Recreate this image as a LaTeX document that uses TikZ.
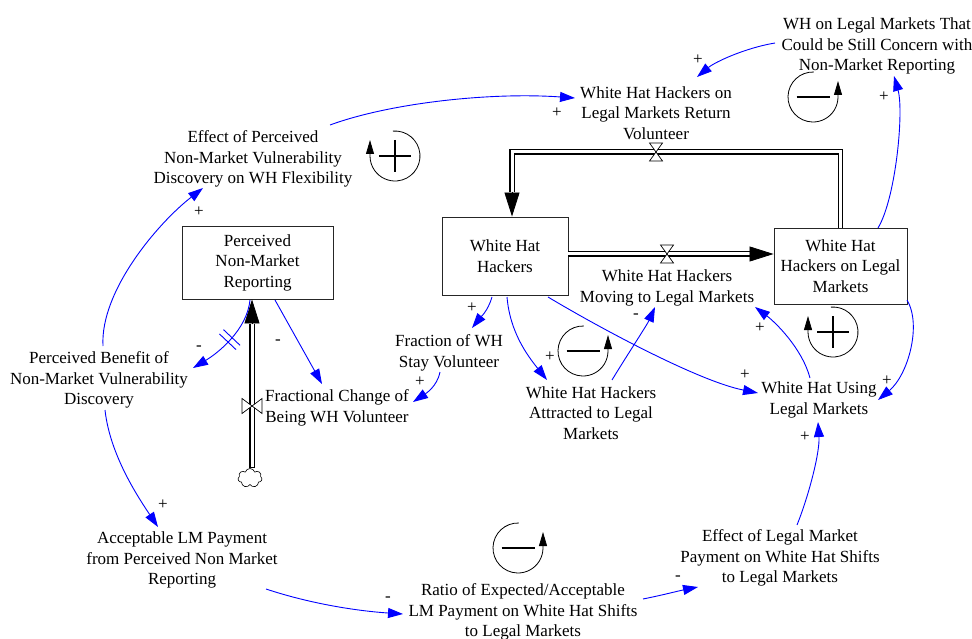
\documentclass[tikz,border=0pt]{standalone}
\usepackage{fontspec}
\newfontfamily\diagfont{Liberation Serif}
\usetikzlibrary{arrows.meta,shapes.symbols}
\begin{document}
\begin{tikzpicture}[x=1pt,y=-1pt,
  txt/.style={font=\diagfont\fontsize{17pt}{20.5pt}\selectfont},
  var/.style={txt, align=center, inner sep=1pt, yshift=-2pt},
  stock/.style={txt, align=center, draw=black!85, line width=0.9pt, inner sep=2pt},
  link/.style={draw=blue, line width=0.9pt, -{Triangle[length=15pt,width=10pt]}},
  sgn/.style={txt, inner sep=0pt},
  pipeouter/.style={draw=black, line width=5.2pt, line cap=butt, line join=miter},
  pipeinner/.style={draw=white, line width=3pt, line cap=butt, line join=miter},
  flowtip/.style={draw=black, line width=0.8pt, -{Triangle[length=24pt,width=15pt]}},
  valve/.style={draw=black, fill=white, line width=0.7pt, line join=miter},
  looparc/.style={draw=black, line width=0.8pt, -{Triangle[length=14pt,width=8pt]}},
  loopsym/.style={draw=black, line width=1.7pt},
  dmark/.style={inner sep=0pt, minimum width=5pt, minimum height=22pt},
]
\useasboundingbox (0,0) rectangle (972,639);

% ---------- variables ----------
\node[var] (wlc) at (877,44) {WH on Legal Markets That\\Could be Still Concern with\\Non-Market Reporting};
\node[var] (ret) at (656,111) {White Hat Hackers on\\Legal Markets Return\\Volunteer};
\node[var] (epn) at (253,157) {Effect of Perceived\\Non-Market Vulnerability\\Discovery on WH Flexibility};
\node[var] (mov) at (667,286) {White Hat Hackers\\Moving to Legal Markets};
\node[var] (fcb) at (337,406) {Fractional Change of\\Being WH Volunteer};
\node[var] (fws) at (449,351) {Fraction of WH\\Stay Volunteer};
\node[var] (att) at (591,411) {White Hat Hackers\\Attracted to Legal\\Markets};
\node[var] (usg) at (819,398) {White Hat Using\\Legal Markets};
\node[var] (pbn) at (99,378) {Perceived Benefit of\\Non-Market Vulnerability\\Discovery};
\node[var] (acc) at (182,558) {Acceptable LM Payment\\from Perceived Non Market\\Reporting};
\node[var] (rat) at (523,610) {Ratio of Expected/Acceptable\\LM Payment on White Hat Shifts\\to Legal Markets};
\node[var] (elm) at (780,556) {Effect of Legal Market\\Payment on White Hat Shifts\\to Legal Markets};

% ---------- stocks ----------
\node[stock, minimum width=151pt, minimum height=73pt] (pnmr) at (257.5,262.5) {Perceived\\Non-Market\\Reporting};
\node[stock, minimum width=126pt, minimum height=78pt] (whh) at (505,256) {White Hat\\Hackers};
\node[stock, minimum width=133pt, minimum height=76pt] (whl) at (840.5,266) {White Hat\\Hackers on Legal\\Markets};

% ---------- source cloud and valves ----------
\node[cloud, cloud puffs=7, draw=black, line width=0.6pt, minimum width=24pt, minimum height=19pt, inner sep=0pt, aspect=1.3] (src) at (250,478) {};
\coordinate (vl) at (252,406);
\coordinate (vt) at (656,152);
\coordinate (vm) at (667,254);

% ---------- flows (pipes drawn as outer black + inner white stroke) ----------
\draw[pipeouter] (src.north -| vl) -- ([shift={(-5.5,25)}]pnmr.south);
\draw[pipeinner] ([shift={(0,-1)}]src.north -| vl) -- ([shift={(-5.5,25)}]pnmr.south);
\draw[flowtip] ([shift={(-5.5,25)}]pnmr.south) -- ([shift={(-5.5,0)}]pnmr.south);

\draw[pipeouter] ([shift={(0,-2)}]whh.east) -- ([shift={(-24,-12)}]whl.west);
\draw[pipeinner] ([shift={(0,-2)}]whh.east) -- ([shift={(-24,-12)}]whl.west);
\draw[flowtip] ([shift={(-24,-12)}]whl.west) -- ([shift={(0,-12)}]whl.west);

\draw[pipeouter] (whl.north) |- (vt) -| ([shift={(7,-25)}]whh.north);
\draw[pipeinner] (whl.north) |- (vt) -| ([shift={(7,-25)}]whh.north);
\draw[flowtip] ([shift={(7,-25)}]whh.north) -- ([shift={(7,0)}]whh.north);

\draw[valve] ([shift={(-10,-7.5)}]vl) -- ([shift={(-10,7.5)}]vl) -- ([shift={(10,-7.5)}]vl) -- ([shift={(10,7.5)}]vl) -- cycle;
\draw[valve] ([shift={(-6.5,-9)}]vt) -- ([shift={(6.5,-9)}]vt) -- ([shift={(-6.5,9)}]vt) -- ([shift={(6.5,9)}]vt) -- cycle;
\draw[valve] ([shift={(-6.5,-9)}]vm) -- ([shift={(6.5,-9)}]vm) -- ([shift={(-6.5,9)}]vm) -- ([shift={(6.5,9)}]vm) -- cycle;

% ---------- causal links ----------
\draw[link] ([shift={(77,-34)}]epn.center) .. controls +(60,-22) and +(-85,-6) .. ([shift={(-81,-15)}]ret.center);
\draw[link] ([shift={(-102,-3)}]wlc.center) .. controls +(-30,5) and +(18,-15) .. ([shift={(41,-36)}]ret.center);
\draw[link] ([shift={(37.5,-38)}]whl.center) .. controls +(18,-30) and +(10,35) .. ([shift={(17,30)}]wlc.center);
\draw[link] ([shift={(4,-34)}]pbn.center) .. controls +(-3,-55) and +(-45,35) .. ([shift={(-50,29)}]epn.center);
\draw[link] ([shift={(6,30)}]pbn.center) .. controls +(5,45) and +(-20,-30) .. ([shift={(-24,-33)}]acc.center);
\draw[link] ([shift={(-7.5,37.5)}]pnmr.center) .. controls +(-3,30) and +(25,-15) .. node[pos=0.5, sloped, dmark] (dm) {} ([shift={(94,-12)}]pbn.center);
\draw[blue, line width=0.9pt] (dm.north west) -- (dm.south west) (dm.north east) -- (dm.south east);
\draw[link] ([shift={(17.5,37.5)}]pnmr.center) -- ([shift={(-15,-24)}]fcb.center);
\draw[link] ([shift={(-9,19)}]fws.center) .. controls +(-3,15) and +(12,-8) .. ([shift={(76,-6)}]fcb.center);
\draw[link] ([shift={(-13,41)}]whh.center) .. controls +(-4,14) and +(8,-10) .. ([shift={(23,-25)}]fws.center);
\draw[link] ([shift={(2,41)}]whh.center) .. controls +(3,35) and +(-20,-25) .. ([shift={(-44,-33)}]att.center);
\draw[link] ([shift={(21,-33)}]att.center) .. controls +(12,-20) and +(-8,18) .. ([shift={(-12,19)}]mov.center);
\draw[link] ([shift={(43,41)}]whh.center) .. controls +(50,30) and +(-60,-12) .. ([shift={(-61,-7)}]usg.center);
\draw[link] ([shift={(-9,-22)}]usg.center) .. controls +(-8,-30) and +(20,15) .. ([shift={(88,19)}]mov.center);
\draw[link] ([shift={(66.5,34)}]whl.center) .. controls +(15,25) and +(30,-25) .. ([shift={(59,0)}]usg.center);
\draw[link] ([shift={(17,-33)}]elm.center) .. controls +(12,-30) and +(2,30) .. ([shift={(-1,22)}]usg.center);
\draw[link] ([shift={(84,29)}]acc.center) .. controls +(45,15) and +(-45,-3) .. ([shift={(-120,2)}]rat.center);
\draw[link] ([shift={(120,-13)}]rat.center) .. controls +(20,-4) and +(-20,4) .. ([shift={(-82,29)}]elm.center);

% ---------- link polarities ----------
\node[sgn] (s1) at (557,113) {+};
\node[sgn] (s2) at (698,60) {+};
\node[sgn] (s3) at (884,97) {+};
\node[sgn] (s4) at (199,212) {+};
\node[sgn] (s5) at (163,505) {+};
\node[sgn] (s6) at (199,348) {-};
\node[sgn] (s7) at (278,342) {-};
\node[sgn] (s8) at (420,382) {+};
\node[sgn] (s9) at (472,308) {+};
\node[sgn] (s10) at (550,357) {+};
\node[sgn] (s11) at (636,316) {-};
\node[sgn] (s12) at (745,375) {+};
\node[sgn] (s13) at (760,328) {+};
\node[sgn] (s14) at (887,381) {+};
\node[sgn] (s15) at (805,437) {+};
\node[sgn] (s16) at (388,599) {-};
\node[sgn] (s17) at (678,578) {-};

% ---------- loop markers ----------
\coordinate (lpA) at (395,156);
\coordinate (lpB) at (813,97);
\coordinate (lpC) at (583,351);
\coordinate (lpD) at (833,332);
\coordinate (lpE) at (518,548);

% reinforcing loops (clockwise)
\draw[looparc] ([shift={(95:25pt)}]lpA) arc[start angle=95, end angle=-180, radius=25pt] -- ++(0,-16);
\draw[loopsym] ([shift={(-16,0)}]lpA) -- ([shift={(16,0)}]lpA) ([shift={(0,-16)}]lpA) -- ([shift={(0,16)}]lpA);
\draw[looparc] ([shift={(95:25pt)}]lpD) arc[start angle=95, end angle=-180, radius=25pt] -- ++(0,-16);
\draw[loopsym] ([shift={(-16,0)}]lpD) -- ([shift={(16,0)}]lpD) ([shift={(0,-16)}]lpD) -- ([shift={(0,16)}]lpD);

% balancing loops (counter-clockwise)
\draw[looparc] ([shift={(88:25pt)}]lpB) arc[start angle=88, end angle=360, radius=25pt] -- ++(0,-16);
\draw[loopsym] ([shift={(-16.5,0)}]lpB) -- ([shift={(16.5,0)}]lpB);
\draw[looparc] ([shift={(88:25pt)}]lpC) arc[start angle=88, end angle=360, radius=25pt] -- ++(0,-16);
\draw[loopsym] ([shift={(-16.5,0)}]lpC) -- ([shift={(16.5,0)}]lpC);
\draw[looparc] ([shift={(88:25pt)}]lpE) arc[start angle=88, end angle=360, radius=25pt] -- ++(0,-16);
\draw[loopsym] ([shift={(-16.5,0)}]lpE) -- ([shift={(16.5,0)}]lpE);
\end{tikzpicture}
\end{document}
